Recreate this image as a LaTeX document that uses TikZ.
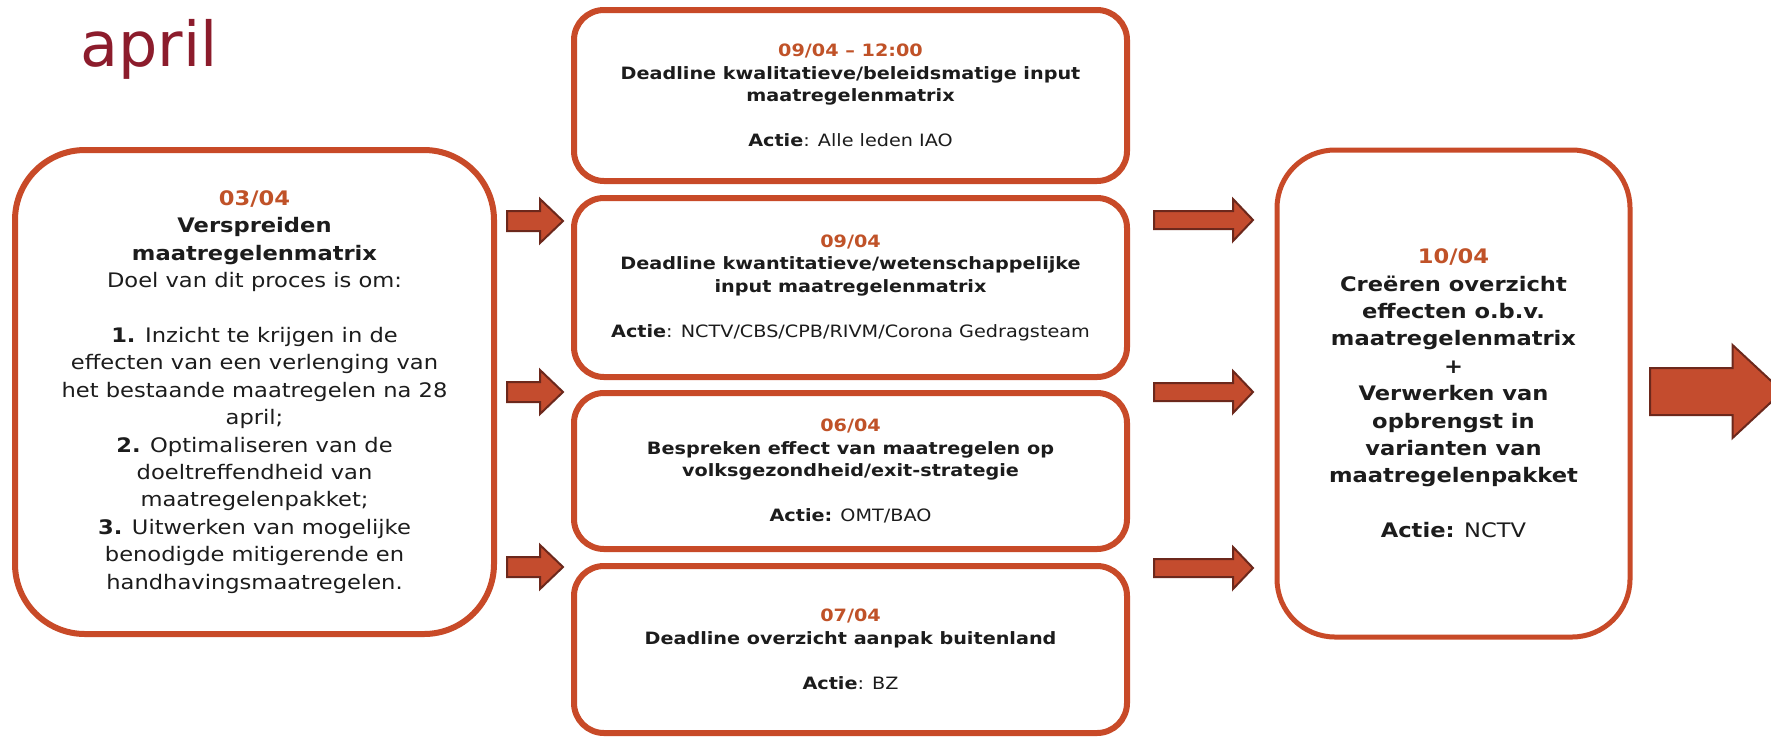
\documentclass[tikz,border=0pt]{standalone}
\usepackage{fontspec}
\setmainfont{DejaVu Sans}[FakeStretch=1.13]
\newfontfamily\titlefont{DejaVu Sans}
\usetikzlibrary{calc}
\definecolor{bord}{RGB}{200,74,40}
\definecolor{datec}{RGB}{192,82,40}
\definecolor{titlec}{RGB}{140,28,44}
\definecolor{arrf}{RGB}{196,76,46}
\definecolor{arrd}{RGB}{108,40,28}
\definecolor{txt}{RGB}{28,28,28}
\newcommand\dt[1]{\textbf{\color{datec}#1}}
\newcommand\blockarrow[5]{%
  \filldraw[blockarr] let \p1=(#1), \p2=(#2) in
   (\x1,\y1+#3) -- (\x2-#5,\y1+#3) -- (\x2-#5,\y1+#4) -- (\x2,\y1)
   -- (\x2-#5,\y1-#4) -- (\x2-#5,\y1-#3) -- (\x1,\y1-#3) -- cycle;}
\begin{document}
\begin{tikzpicture}[x=1pt,y=-1pt,
  box/.style={draw=bord, fill=white, align=center, text=txt, inner sep=0pt},
  bigbox/.style={box, line width=6pt, font=\fontsize{20}{27.4}\selectfont},
  midbox/.style={box, line width=6pt, minimum width=553pt, rounded corners=30pt,
     font=\fontsize{17}{22.5}\selectfont},
  blockarr/.style={fill=arrf, draw=arrd, line width=2pt, line join=miter}]
\useasboundingbox (0,0) rectangle (1771,740);
\clip (0,0) rectangle (1771,740);
\fill[white] (0,0) rectangle (1771,740);

\node[anchor=base west, inner sep=0pt, text=titlec,
      font=\titlefont\fontsize{62}{62}\selectfont] (title) at (80,66) {april};

\node[bigbox, minimum width=479pt, minimum height=484pt, rounded corners=70pt]
  (L) at (254.5,392) {\dt{03/04}\\ \textbf{Verspreiden}\\ \textbf{maatregelenmatrix}\\
  Doel van dit proces is om:\\[27.4pt]
  \textbf{1.} Inzicht te krijgen in de\\ effecten van een verlenging van\\
  het bestaande maatregelen na 28\\ april;\\
  \textbf{2.} Optimaliseren van de\\ doeltreffendheid van\\ maatregelenpakket;\\
  \textbf{3.} Uitwerken van mogelijke\\ benodigde mitigerende en\\ handhavingsmaatregelen.};

\node[midbox, minimum height=171pt] (M1) at (850.5,95.5)
  {\dt{09/04 -- 12:00}\\ \textbf{Deadline kwalitatieve/beleidsmatige input}\\
   \textbf{maatregelenmatrix}\\[22.5pt] \textbf{Actie}: Alle leden IAO};
\node[midbox, minimum height=179pt] (M2) at (850.5,287.5)
  {\dt{09/04}\\ \textbf{Deadline kwantitatieve/wetenschappelijke}\\
   \textbf{input maatregelenmatrix}\\[22.5pt] \textbf{Actie}: NCTV/CBS/CPB/RIVM/Corona Gedragsteam};
\node[midbox, minimum height=156pt] (M3) at (850.5,471)
  {\dt{06/04}\\ \textbf{Bespreken effect van maatregelen op}\\
   \textbf{volksgezondheid/exit-strategie}\\[22.5pt] \textbf{Actie:} OMT/BAO};
\node[midbox, minimum height=167pt] (M4) at (850.5,649.5)
  {\dt{07/04}\\ \textbf{Deadline overzicht aanpak buitenland}\\[22.5pt]
   \textbf{Actie}: BZ};

\node[bigbox, line width=5pt, minimum width=353pt, minimum height=487pt, rounded corners=58pt]
  (R) at (1453.5,393.5) {\dt{10/04}\\ \textbf{Creëren overzicht}\\ \textbf{effecten o.b.v.}\\
  \textbf{maatregelenmatrix}\\ \textbf{+}\\ \textbf{Verwerken van}\\ \textbf{opbrengst in}\\
  \textbf{varianten van}\\ \textbf{maatregelenpakket}\\[27.4pt] \textbf{Actie:} NCTV};

% left arrows
\coordinate (la1) at ($(L.east |- 0,221)+(10,0)$);
\coordinate (la1e) at ($(M2.west |- 0,221)+(-8,0)$);
\coordinate (la2) at ($(L.east |- 0,392)+(10,0)$);
\coordinate (la2e) at ($(M3.west |- 0,392)+(-8,0)$);
\coordinate (la3) at ($(L.east |- 0,567)+(10,0)$);
\coordinate (la3e) at ($(M4.west |- 0,567)+(-8,0)$);
\blockarrow{la1}{la1e}{10pt}{22pt}{23pt}
\blockarrow{la2}{la2e}{10pt}{22pt}{23pt}
\blockarrow{la3}{la3e}{10pt}{22pt}{23pt}

% right arrows
\coordinate (ra1) at ($(M2.east |- 0,220)+(24,0)$);
\coordinate (ra1e) at ($(R.west |- 0,220)+(-21.5,0)$);
\coordinate (ra2) at ($(M3.east |- 0,392)+(24,0)$);
\coordinate (ra2e) at ($(R.west |- 0,392)+(-21.5,0)$);
\coordinate (ra3) at ($(M4.east |- 0,568)+(24,0)$);
\coordinate (ra3e) at ($(R.west |- 0,568)+(-21.5,0)$);
\blockarrow{ra1}{ra1e}{9pt}{21pt}{20pt}
\blockarrow{ra2}{ra2e}{9pt}{21pt}{20pt}
\blockarrow{ra3}{ra3e}{9pt}{21pt}{20pt}

% outgoing arrow
\coordinate (out) at ($(R.east |- 0,391.5)+(17.5,0)$);
\coordinate (oute) at ($(R.east |- 0,391.5)+(150,0)$);
\blockarrow{out}{oute}{23.5pt}{46.5pt}{50pt}
\end{tikzpicture}
\end{document}
